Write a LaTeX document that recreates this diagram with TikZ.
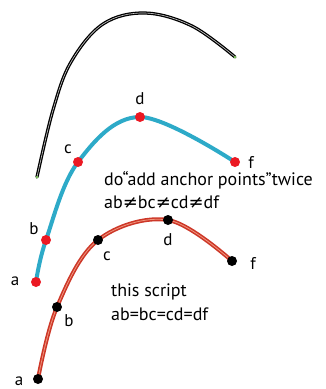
\documentclass[tikz,border=0pt]{standalone}
\usepackage{fontspec}
\setmainfont{PT Sans}
\newfontfamily\symfont{DejaVu Sans}
\usetikzlibrary{positioning,calc}
\definecolor{curvecyan}{RGB}{45,170,200}
\definecolor{curvered}{RGB}{205,55,40}
\definecolor{curvepink}{RGB}{240,150,125}
\definecolor{dotred}{RGB}{235,25,35}
\definecolor{tipgreen}{RGB}{120,190,90}
\newcommand{\noteq}{{\symfont ≠}}

\begin{document}
\begin{tikzpicture}[
      x=1pt, y=-1pt,
      reddot/.style={circle, fill=dotred, inner sep=0pt, minimum size=10pt},
      blackdot/.style={circle, fill=black, inner sep=0pt, minimum size=10pt},
      tip/.style={circle, fill=tipgreen, inner sep=0pt, minimum size=3pt},
      lbl/.style={font=\fontsize{17}{19}\selectfont, inner sep=0pt},
      note/.style={font=\fontsize{18}{20}\selectfont, inner sep=0pt, anchor=west}
    ]
      \useasboundingbox (0,0) rectangle (326,389);

      % points on the three curves
      \coordinate (k1) at (37,177);
      \coordinate (k2) at (53,110);
      \coordinate (k3) at (71,62);
      \coordinate (k4) at (103,24);
      \coordinate (k5) at (145,13);
      \coordinate (k6) at (192,26);
      \coordinate (k7) at (235,57);

      \coordinate (pa) at (36,282);
      \coordinate (pb) at (46,240);
      \coordinate (pc) at (78,162);
      \coordinate (pd) at (140,117);
      \coordinate (pf) at (235,162);

      \coordinate (qa) at (38,379);
      \coordinate (qb) at (57,307);
      \coordinate (qc) at (98,240);
      \coordinate (qd) at (168,220);
      \coordinate (qf) at (232,261);

      % original curve
      \draw[line width=3.2pt, line cap=round] plot[smooth, tension=0.6] coordinates {(k1) (k2) (k3) (k4) (k5) (k6) (k7)};
      \draw[line width=0.6pt, gray!40] plot[smooth, tension=0.6] coordinates {(k1) (k2) (k3) (k4) (k5) (k6) (k7)};
      \node[tip] (start) at (k1) {};
      \node[tip] (end) at (k7) {};

      % add anchor points twice
      \draw[line width=4pt, curvecyan] plot[smooth, tension=0.6] coordinates {(pa) (pb) (pc) (pd) (pf)};
      \node[reddot] (ra) at (pa) {};
      \node[reddot] (rb) at (pb) {};
      \node[reddot] (rc) at (pc) {};
      \node[reddot] (rd) at (pd) {};
      \node[reddot] (rf) at (pf) {};
      \node[lbl] (la) at (15,281) {a};
      \node[lbl] (lb) at (34,229) {b};
      \node[lbl] (lc) at (68,149) {c};
      \node[lbl] (ld) at (140,99) {d};
      \node[lbl] (lf) at (251,162) {f};
      \node[note] (twice) at (104,180) {do“add anchor points”twice};
      \node[note] (uneq) at (104,202) {ab\noteq bc\noteq cd\noteq df};

      % this script
      \draw[line width=4pt, curvered] plot[smooth, tension=0.6] coordinates {(qa) (qb) (qc) (qd) (qf)};
      \draw[line width=0.8pt, curvepink] plot[smooth, tension=0.6] coordinates {(qa) (qb) (qc) (qd) (qf)};
      \node[blackdot] (sa) at (qa) {};
      \node[blackdot] (sb) at (qb) {};
      \node[blackdot] (sc) at (qc) {};
      \node[blackdot] (sd) at (qd) {};
      \node[blackdot] (sf) at (qf) {};
      \node[lbl] (ma) at (19,381) {a};
      \node[lbl] (mb) at (69,321) {b};
      \node[lbl] (mc) at (107,256) {c};
      \node[lbl] (md) at (168,240) {d};
      \node[lbl] (mf) at (253,263) {f};
      \node[note] (script) at (111,292) {this script};
      \node[note] (equal) at (111,314) {ab=bc=cd=df};
    \end{tikzpicture}
\end{document}
